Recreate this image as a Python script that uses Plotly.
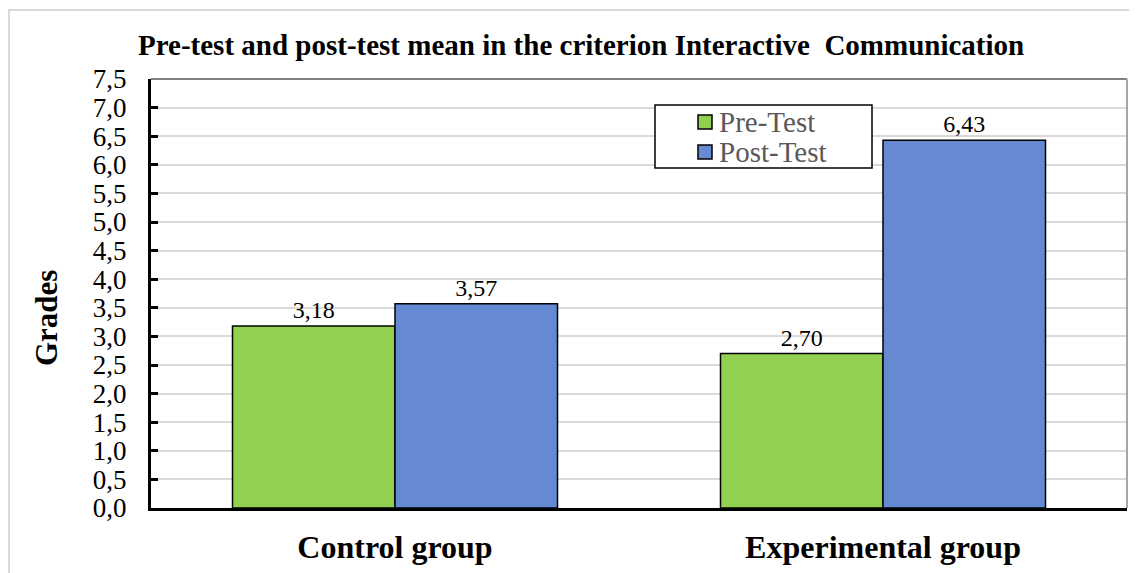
import plotly.graph_objects as go

categories = ["Control group", "Experimental group"]
pre_test = [3.18, 2.70]
post_test = [3.57, 6.43]
series_names = ["Pre-Test", "Post-Test"]
title_text = "Pre-test and post-test mean in the criterion Interactive  Communication"
y_title = "Grades"

GREEN = "#92d050"
BLUE = "#668ad2"
SERIF = "Liberation Serif, Times New Roman, serif"

W, H = 1137, 573
OX, OY = 8, 8  # page body margin offset
# target plot area in screen pixels
PL, PR, PT, PB = 151, 1127, 79, 508
L, T = PL - OX, PT - OY
R, B = W - (PR - OX), H - (PB - OY)
pw, ph = PR - PL, PB - PT


def px(x):
    return (x - PL) / pw


def py(y):
    return (PB - y) / ph


colors = [GREEN, BLUE]
fig = go.Figure()
for name, vals, col in zip(series_names, [pre_test, post_test], colors):
    fig.add_trace(go.Bar(
        x=categories, y=vals, name=name,
        marker=dict(color=col, line=dict(color="black", width=1.5)),
        text=[f"{v:.2f}".replace(".", ",") for v in vals],
        textposition="outside",
        textfont=dict(family=SERIF, size=24, color="black"),
        cliponaxis=False,
        showlegend=False,
    ))

fig.update_layout(
    width=W, height=H,
    margin=dict(l=L, r=R, t=T, b=B, pad=0),
    paper_bgcolor="white", plot_bgcolor="white",
    barmode="group", bargap=0.334, bargroupgap=0,
    separators=", ",
    font=dict(family=SERIF, color="black"),
    xaxis=dict(
        showline=True, linecolor="black", linewidth=3,
        ticks="", showgrid=False,
        tickfont=dict(family=SERIF, size=32, color="black", weight="bold"),
        ticklabelstandoff=9,
        mirror=False,
    ),
    yaxis=dict(
        range=[0, 7.5], dtick=0.5, tick0=0, tickformat=".1f",
        showline=True, linecolor="black", linewidth=3,
        ticks="inside", ticklen=7, tickwidth=3, tickcolor="black",
        showgrid=True, gridcolor="#d9d9d9", gridwidth=2,
        tickfont=dict(family=SERIF, size=27, color="black"),
        ticklabelstandoff=16,
        zeroline=False,
    ),
)

# plot area frame (top and right)
fig.add_shape(type="line", xref="paper", yref="paper", x0=0, x1=1, y0=1, y1=1,
              line=dict(color="#808080", width=2))
fig.add_shape(type="line", xref="paper", yref="paper", x0=1, x1=1, y0=0, y1=1,
              line=dict(color="#a6a6a6", width=2))
# outer chart border
fig.add_shape(type="rect", xref="paper", yref="paper",
              x0=px(9), x1=px(W + 20), y0=py(H + 20), y1=py(10),
              line=dict(color="#d9d9d9", width=2), layer="below")

# legend (drawn manually to match the reference box)
fig.add_shape(type="rect", xref="paper", yref="paper",
              x0=px(655), x1=px(872), y0=py(168), y1=py(105),
              line=dict(color="black", width=1.5), fillcolor="white", layer="above")
for i, (name, col) in enumerate(zip(series_names, colors)):
    yc = 122 + i * 30
    fig.add_shape(type="rect", xref="paper", yref="paper",
                  x0=px(698), x1=px(712), y0=py(yc + 7), y1=py(yc - 7),
                  line=dict(color="black", width=1.5), fillcolor=col, layer="above")
    fig.add_annotation(text=name, xref="paper", yref="paper",
                       x=px(717), y=py(yc), xanchor="left", yanchor="middle",
                       showarrow=False,
                       font=dict(family=SERIF, size=29, color="#595959"))

fig.add_annotation(text=f"<b>{title_text}</b>", xref="paper", yref="paper",
                   x=px(581), y=py(45), xanchor="center", yanchor="middle",
                   showarrow=False, font=dict(family=SERIF, size=29, color="black"))
fig.add_annotation(text=f"<b>{y_title}</b>", xref="paper", yref="paper",
                   x=px(46), y=py(318), xanchor="center", yanchor="middle",
                   textangle=-90, showarrow=False, font=dict(family=SERIF, size=31, color="black"))

fig.write_html("out.html")
